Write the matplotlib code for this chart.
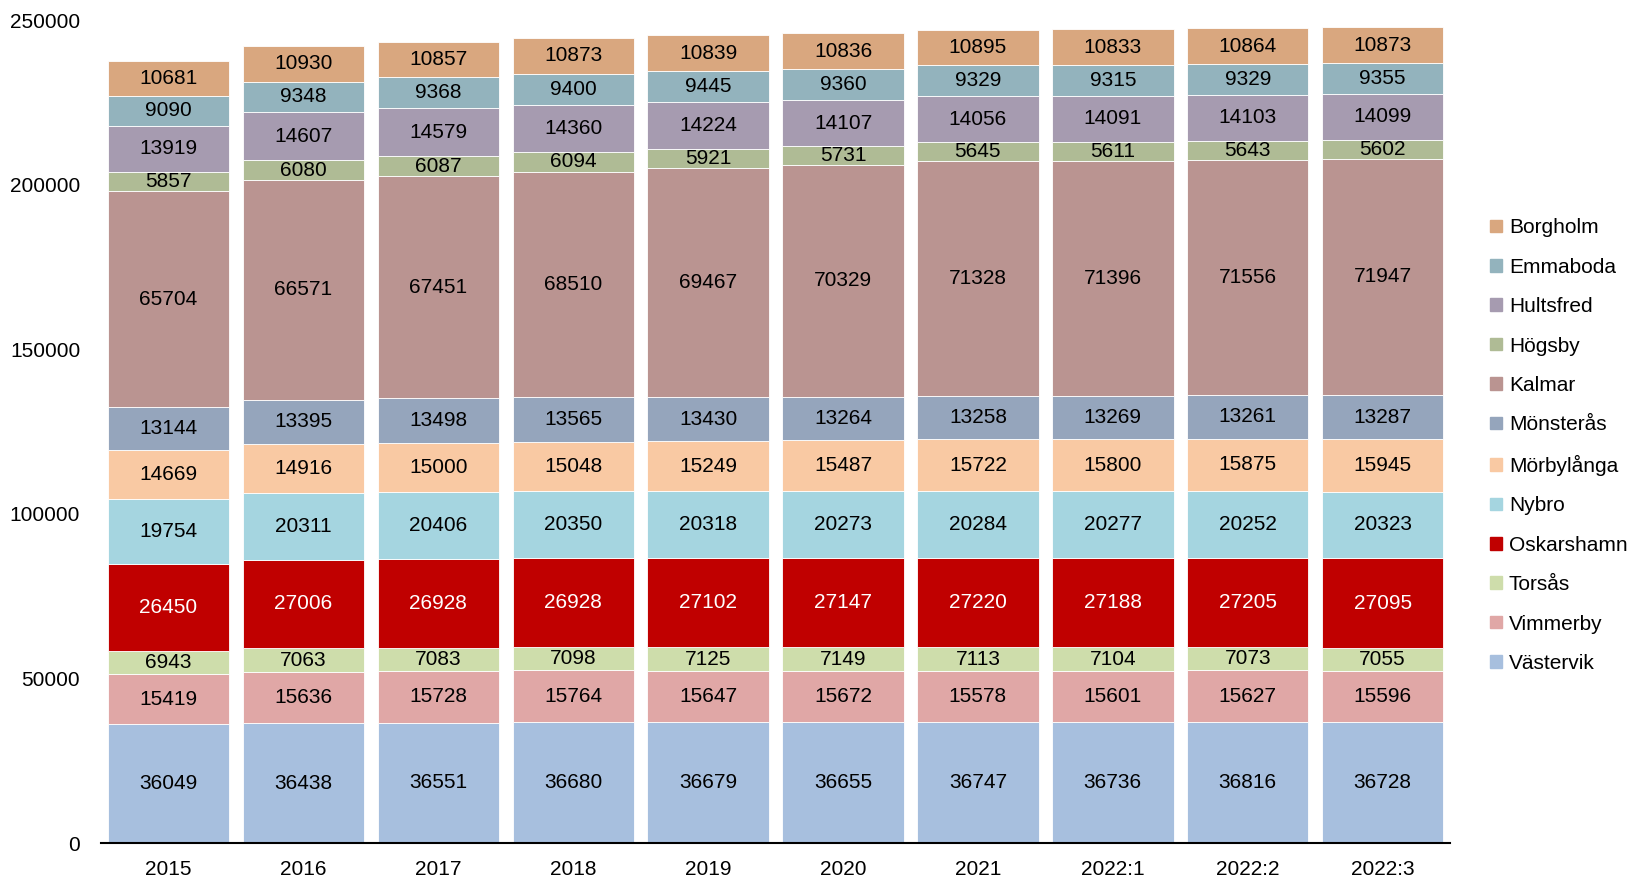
import matplotlib.pyplot as plt
import matplotlib.patches as mpatches
import numpy as np

plt.rcParams['font.family'] = ['Liberation Sans', 'DejaVu Sans']

years = ["2015", "2016", "2017", "2018", "2019", "2020", "2021", "2022:1", "2022:2", "2022:3"]

# stacked from bottom to top
kommuner = ["Västervik", "Vimmerby", "Torsås", "Oskarshamn", "Nybro", "Mörbylånga",
            "Mönsterås", "Kalmar", "Högsby", "Hultsfred", "Emmaboda", "Borgholm"]

vastervik = [36049, 36438, 36551, 36680, 36679, 36655, 36747, 36736, 36816, 36728]
vimmerby = [15419, 15636, 15728, 15764, 15647, 15672, 15578, 15601, 15627, 15596]
torsas = [6943, 7063, 7083, 7098, 7125, 7149, 7113, 7104, 7073, 7055]
oskarshamn = [26450, 27006, 26928, 26928, 27102, 27147, 27220, 27188, 27205, 27095]
nybro = [19754, 20311, 20406, 20350, 20318, 20273, 20284, 20277, 20252, 20323]
morbylanga = [14669, 14916, 15000, 15048, 15249, 15487, 15722, 15800, 15875, 15945]
monsteras = [13144, 13395, 13498, 13565, 13430, 13264, 13258, 13269, 13261, 13287]
kalmar = [65704, 66571, 67451, 68510, 69467, 70329, 71328, 71396, 71556, 71947]
hogsby = [5857, 6080, 6087, 6094, 5921, 5731, 5645, 5611, 5643, 5602]
hultsfred = [13919, 14607, 14579, 14360, 14224, 14107, 14056, 14091, 14103, 14099]
emmaboda = [9090, 9348, 9368, 9400, 9445, 9360, 9329, 9315, 9329, 9355]
borgholm = [10681, 10930, 10857, 10873, 10839, 10836, 10895, 10833, 10864, 10873]

series = [vastervik, vimmerby, torsas, oskarshamn, nybro, morbylanga,
          monsteras, kalmar, hogsby, hultsfred, emmaboda, borgholm]

colors = ["#A7BFDE", "#E0A7A6", "#CEDDAB", "#C00000", "#A5D5E0", "#F9C9A3",
          "#95A5BC", "#BA9491", "#AFBB95", "#A69BB0", "#93B3BD", "#D9A77F"]

fig = plt.figure(figsize=(16.3, 8.8), dpi=100)
ax = fig.add_axes([0.062, 0.042, 0.8276, 0.935])

x = np.arange(len(years))
bottom = np.zeros(len(years))
for name, vals, col in zip(kommuner, series, colors):
    vals = np.array(vals)
    bars = ax.bar(x, vals, 0.9, bottom=bottom, color=col, edgecolor="white",
                  linewidth=0.6, label=name)
    txtcol = "white" if name == "Oskarshamn" else "black"
    ax.bar_label(bars, labels=[str(v) for v in vals], label_type="center",
                 fontsize=15, color=txtcol)
    bottom += vals

ax.set_xlim(-0.5, len(years) - 0.5)
ax.set_ylim(0, 250000)
ax.set_yticks(np.arange(0, 250001, 50000))
ax.set_xticks(x)
ax.set_xticklabels(years)
ax.tick_params(axis="both", length=0, labelsize=15)
ax.tick_params(axis="y", pad=15)
ax.tick_params(axis="x", pad=12)
for s in ["top", "right", "left"]:
    ax.spines[s].set_visible(False)
ax.spines["bottom"].set_linewidth(1.5)

handles = [mpatches.Patch(color=c, label=n) for n, c in zip(kommuner, colors)][::-1]
ax.legend(handles=handles, loc="center left", bbox_to_anchor=(1.022, 0.483),
          frameon=False, fontsize=15, handlelength=0.55, handleheight=0.55,
          handletextpad=0.35, labelspacing=0.98, borderpad=0)

fig.savefig("out.png", dpi=100)
